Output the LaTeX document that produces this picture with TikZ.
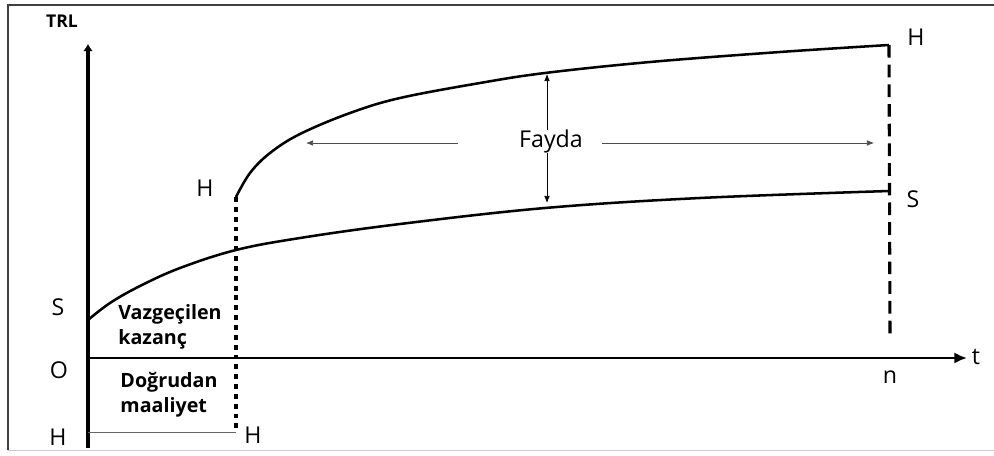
\documentclass[tikz,border=0pt]{standalone}
\usepackage{fontspec}
\setmainfont{Open Sans}
\usetikzlibrary{arrows.meta}
\tikzset{
  curve/.style={line width=1.8pt, line join=round},
  lbl/.style={font=\fontsize{16.5}{18}\selectfont, inner sep=0pt},
  boldlbl/.style={font=\bfseries\fontsize{14}{18}\selectfont, align=left, inner sep=0pt},
  thinarrow/.style={line width=0.5pt, -{Latex[length=5pt,width=4pt]}},
}
\begin{document}
\begin{tikzpicture}[x=0.025cm, y=-0.025cm]
\useasboundingbox (0,0) rectangle (994,455);
% frame
\draw[black!75, line width=0.9pt] (8,450) -- (8,5) -- (994,5);
\draw[black!20, line width=0.6pt] (8,450) -- (994,450);

% points
\coordinate (O) at (88,358);
\coordinate (ytop) at (88,44);
\coordinate (ybot) at (88,448);
\coordinate (xend) at (967,358);
\coordinate (S0) at (88,320);
\coordinate (Sn) at (889,191);
\coordinate (H1) at (236,197);
\coordinate (Hn) at (889,45);
\coordinate (Hb0) at (88,432);
\coordinate (Hb) at (236,432);
\coordinate (nb) at (890,338);

% axes
\draw[line width=2.8pt, -{Latex[length=5pt,width=7pt]}] (ybot) -- (ytop);
\draw[line width=1.8pt, -{Latex[length=9pt,width=8pt]}] (O) -- (xend);

% dotted and dashed lines
\draw[line width=2.2pt, dash pattern=on 3.5pt off 3.5pt] (H1) -- (Hb);
\draw[line width=2.2pt, dash pattern=on 9pt off 5pt] (Hn) -- (nb);
\draw[black!60, line width=0.6pt] (Hb0) -- (Hb);

% curves
\draw[curve] plot[smooth, tension=0.6] coordinates {(S0) (110,303) (140,286) (180,268) (236,250) (300,238) (400,224) (545,208) (700,198) (Sn)};
\draw[curve] plot[smooth, tension=0.6] coordinates {(H1) (250,173) (270,153) (300,134) (350,113) (400,98) (480,83) (545,73) (650,62) (780,52) (Hn)};

% Fayda
\node[lbl, font=\fontsize{16.5}{18}\selectfont] (fayda) at (551,141) {Fayda};
\coordinate (fupS) at (547,130);
\coordinate (fupE) at (547,74);
\coordinate (fdnS) at (547,153);
\coordinate (fdnE) at (547,203);
\coordinate (flS) at (458,143);
\coordinate (flE) at (306,143);
\coordinate (frS) at (602,143);
\coordinate (frE) at (874,143);
\draw[thinarrow] (fupS) -- (fupE);
\draw[thinarrow] (fdnS) -- (fdnE);
\draw[thinarrow, black!70] (flS) -- (flE);
\draw[thinarrow, black!70] (frS) -- (frE);

% labels
\node[font=\bfseries\fontsize{12.5}{14}\selectfont, inner sep=0pt] (trl) at (62,21) {TRL};
\node[lbl] (hmid) at (205,188) {H};
\node[lbl] (s0) at (58,307) {S};
\node[lbl] (o) at (59,370) {O};
\node[lbl] (hbl) at (58,437) {H};
\node[lbl] (hbr) at (253,435) {H};
\node[lbl] (hn) at (916,37) {H};
\node[lbl] (sn) at (913,199) {S};
\node[lbl] (n) at (890,377) {n};
\node[lbl] (t) at (976,357) {t};
\node[boldlbl] (vaz) at (170,327) {Vazgeçilen\\kazanç};
\node[boldlbl] (dog) at (169,395) {Doğrudan\\maaliyet};
\end{tikzpicture}
\end{document}
